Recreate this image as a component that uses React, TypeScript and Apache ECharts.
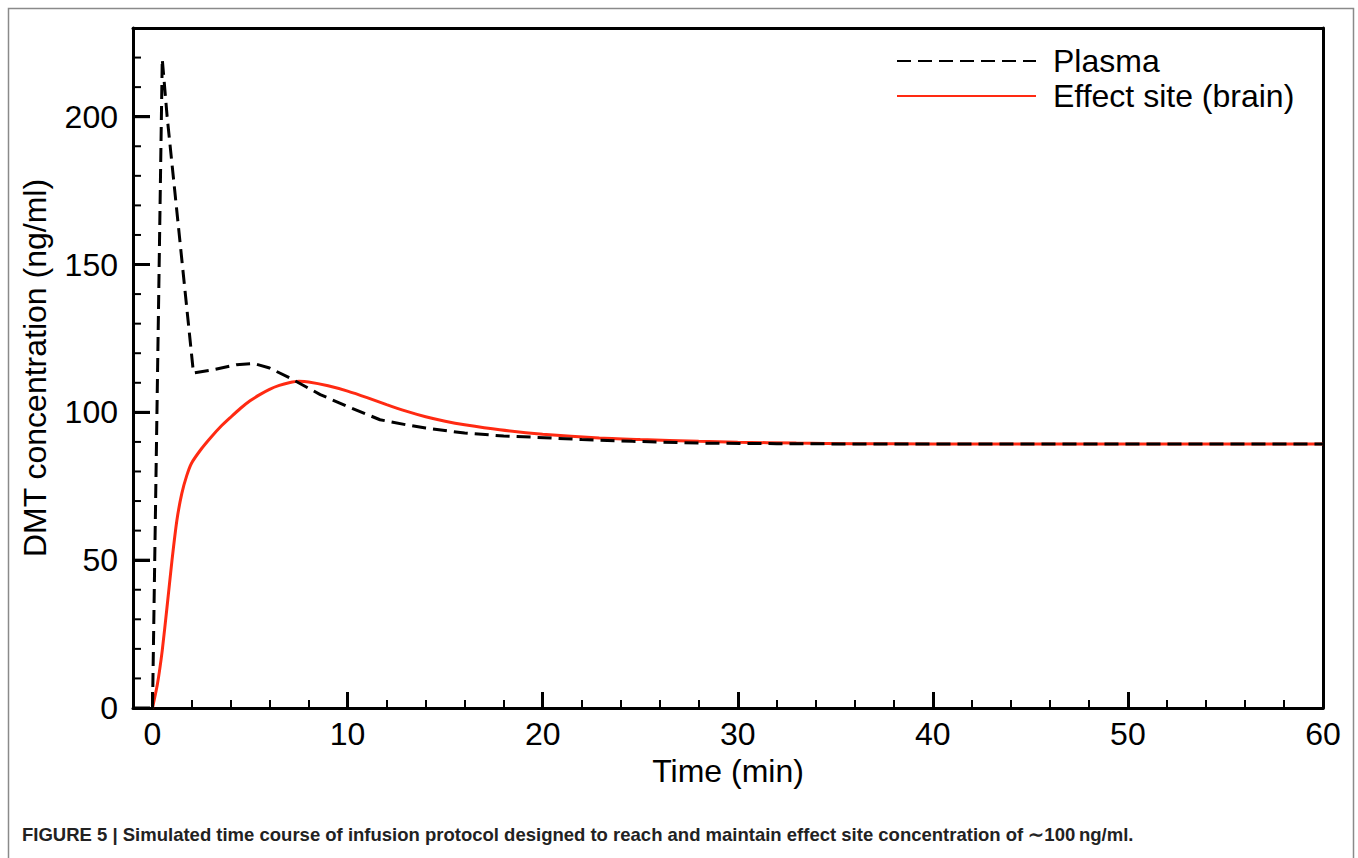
import React, { useEffect, useRef } from "react";
import * as echarts from "echarts";

const plasmaT = [0, 0.5, 0.75, 2.1, 3.1, 4.3, 5.2, 6.0, 7.05, 8.6, 10, 11.66, 13, 14, 16, 18, 19.5, 22, 24.6, 28, 32, 36, 60];
const plasmaC = [0, 219.5, 200, 113.3, 114.4, 116.1, 116.5, 115, 111.6, 106, 102, 97.5, 95.8, 94.7, 93, 92, 91.6, 90.8, 90.2, 89.6, 89.4, 89.3, 89.3];

const brainT = [0, 0.25, 0.5, 0.75, 1.0, 1.25, 1.5, 1.75, 2.0, 2.5, 3, 3.5, 4, 4.5, 5, 5.5, 6, 6.5, 7, 7.5, 8, 9, 10, 11, 12, 13, 14, 15, 16, 17.8, 20, 22.9, 25, 28, 30, 33, 36, 40, 60];
const brainC = [0, 8, 19.5, 34.5, 50, 63.5, 72.5, 78.5, 82.8, 87.6, 91.6, 95.2, 98.3, 101.3, 103.9, 106, 107.8, 109.1, 110, 110.5, 110.3, 109, 107.2, 105, 102.6, 100.4, 98.5, 97, 95.8, 94.1, 92.6, 91.3, 90.8, 90.2, 89.9, 89.6, 89.4, 89.3, 89.3];

const xMajor = [0, 10, 20, 30, 40, 50, 60];
const xMinor = [2, 4, 6, 8, 12, 14, 16, 18, 22, 24, 26, 28, 32, 34, 36, 38, 42, 44, 46, 48, 52, 54, 56, 58];
const yMajor = [0, 50, 100, 150, 200];
const yMinor = [10, 20, 30, 40, 60, 70, 80, 90, 110, 120, 130, 140, 160, 170, 180, 190, 210, 220];

const seriesNames = ["Plasma", "Effect site (brain)"];
const caption = "FIGURE 5 | Simulated time course of infusion protocol designed to reach and maintain effect site concentration of \u223C100\u2009ng/ml.";

const FONT = "Liberation Sans, Arial, Helvetica, sans-serif";
const FS = 32;
const X_MIN = -1;
const X_MAX = 60;
const Y_MIN = 0;
const Y_MAX = 230;
const MAJOR_LEN = 17;
const MINOR_LEN = 8;

export default function App() {
  const ref = useRef<HTMLDivElement>(null);
  useEffect(() => {
    if (!ref.current) return;
    const chart = echarts.init(ref.current, null, { renderer: "svg" });
    const plasma = plasmaT.map((t, i) => [t, plasmaC[i]]);
    const brain = brainT.map((t, i) => [t, brainC[i]]);
    const xBase = { type: "value", min: X_MIN, max: X_MAX, splitLine: { show: false } };
    const yBase = { type: "value", min: Y_MIN, max: Y_MAX, splitLine: { show: false } };
    const black3 = { color: "#000", width: 3 };
    const frame = {
      id: "frame",
      type: "rect",
      shape: { x: 8.5, y: 8.5, width: 1345, height: 900 },
      style: { fill: "none", stroke: "#8a8a8a", lineWidth: 1.5 },
      silent: true,
      z: -10,
    };
    chart.setOption({
      animation: false,
      backgroundColor: "#fff",
      textStyle: { fontFamily: FONT },
      title: {
        text: caption,
        left: 22,
        top: 825,
        padding: 0,
        textStyle: { fontFamily: FONT, fontSize: 18.5, fontWeight: "bold", color: "#222" },
      },
      legend: {
        data: seriesNames,
        orient: "vertical",
        left: 896,
        top: 45,
        itemWidth: 139,
        itemHeight: 1,
        itemGap: 3,
        padding: 0,
        textStyle: { fontFamily: FONT, fontSize: FS, color: "#000", padding: [0, 0, 0, 12], lineHeight: 32 },
      },
      grid: {
        left: 133,
        top: 28,
        right: 35,
        bottom: 150,
        show: false,
      },
      graphic: [frame],
      xAxis: [
        {
          ...xBase,
          position: "bottom",
          name: "Time (min)",
          nameLocation: "middle",
          nameGap: 44,
          nameTextStyle: { fontFamily: FONT, fontSize: FS, color: "#000" },
          axisLine: { show: true, onZero: false, lineStyle: black3 },
          axisTick: { show: true, inside: true, length: 16, customValues: xMajor, lineStyle: black3 },
          axisLabel: { show: true, customValues: xMajor, margin: 10, fontFamily: FONT, fontSize: FS, color: "#000" },
        },
        {
          ...xBase,
          position: "bottom",
          offset: 0,
          axisLine: { show: false, onZero: false },
          axisTick: { show: true, inside: true, length: 8, customValues: xMinor, lineStyle: { color: "#000", width: 2 } },
          axisLabel: { show: false },
        },
        {
          ...xBase,
          position: "top",
          axisLine: { show: true, onZero: false, lineStyle: black3 },
          axisTick: { show: false },
          axisLabel: { show: false },
        },
      ],
      yAxis: [
        {
          ...yBase,
          position: "left",
          name: "DMT concentration (ng/ml)",
          nameLocation: "middle",
          nameGap: 82,
          nameTextStyle: { fontFamily: FONT, fontSize: FS, color: "#000" },
          axisLine: { show: true, onZero: false, lineStyle: black3 },
          axisTick: { show: true, inside: true, length: MAJOR_LEN, customValues: yMajor, lineStyle: black3 },
          axisLabel: { show: true, customValues: yMajor, margin: 15, fontFamily: FONT, fontSize: FS, color: "#000" },
        },
        {
          ...yBase,
          position: "right",
          axisLine: { show: true, onZero: false, lineStyle: black3 },
          axisTick: { show: false },
          axisLabel: { show: false },
        },
      ],
      series: [
        {
          name: seriesNames[0],
          type: "line",
          xAxisIndex: 0,
          yAxisIndex: 0,
          data: plasma,
          showSymbol: false,
          symbol: "none",
          lineStyle: { color: "#000", width: 3, type: [14, 7] },
          itemStyle: { color: "#000" },
          z: 3,
        },
        {
          name: seriesNames[1],
          type: "line",
          xAxisIndex: 0,
          yAxisIndex: 0,
          data: brain,
          showSymbol: false,
          symbol: "none",
          smooth: 0.2,
          lineStyle: { color: "#ff2a12", width: 3 },
          itemStyle: { color: "#ff2a12" },
          z: 2,
        },
      ],
    });

    // y-axis ticks: positions come from the chart's own scale (convertToPixel)
    const tickLines: any[] = [];
    const addTick = (v: number, len: number, w: number) => {
      const p = chart.convertToPixel({ xAxisIndex: 0, yAxisIndex: 0 }, [X_MIN, v]) as number[];
      if (!p || !isFinite(p[0]) || !isFinite(p[1])) return;
      tickLines.push({
        type: "line",
        shape: { x1: p[0], y1: p[1], x2: p[0] + len, y2: p[1] },
        style: { stroke: "#000", lineWidth: w },
        silent: true,
        z: 1000,
      });
    };
    yMajor.forEach((v) => addTick(v, MAJOR_LEN, 3));
    yMinor.forEach((v) => addTick(v, MINOR_LEN, 2));
    chart.setOption({ graphic: [frame, ...tickLines] }, { replaceMerge: ["graphic"] });

    return () => chart.dispose();
  }, []);
  return <div ref={ref} style={{ position: "absolute", left: 0, top: 0, width: 1358, height: 858 }} />;
}
